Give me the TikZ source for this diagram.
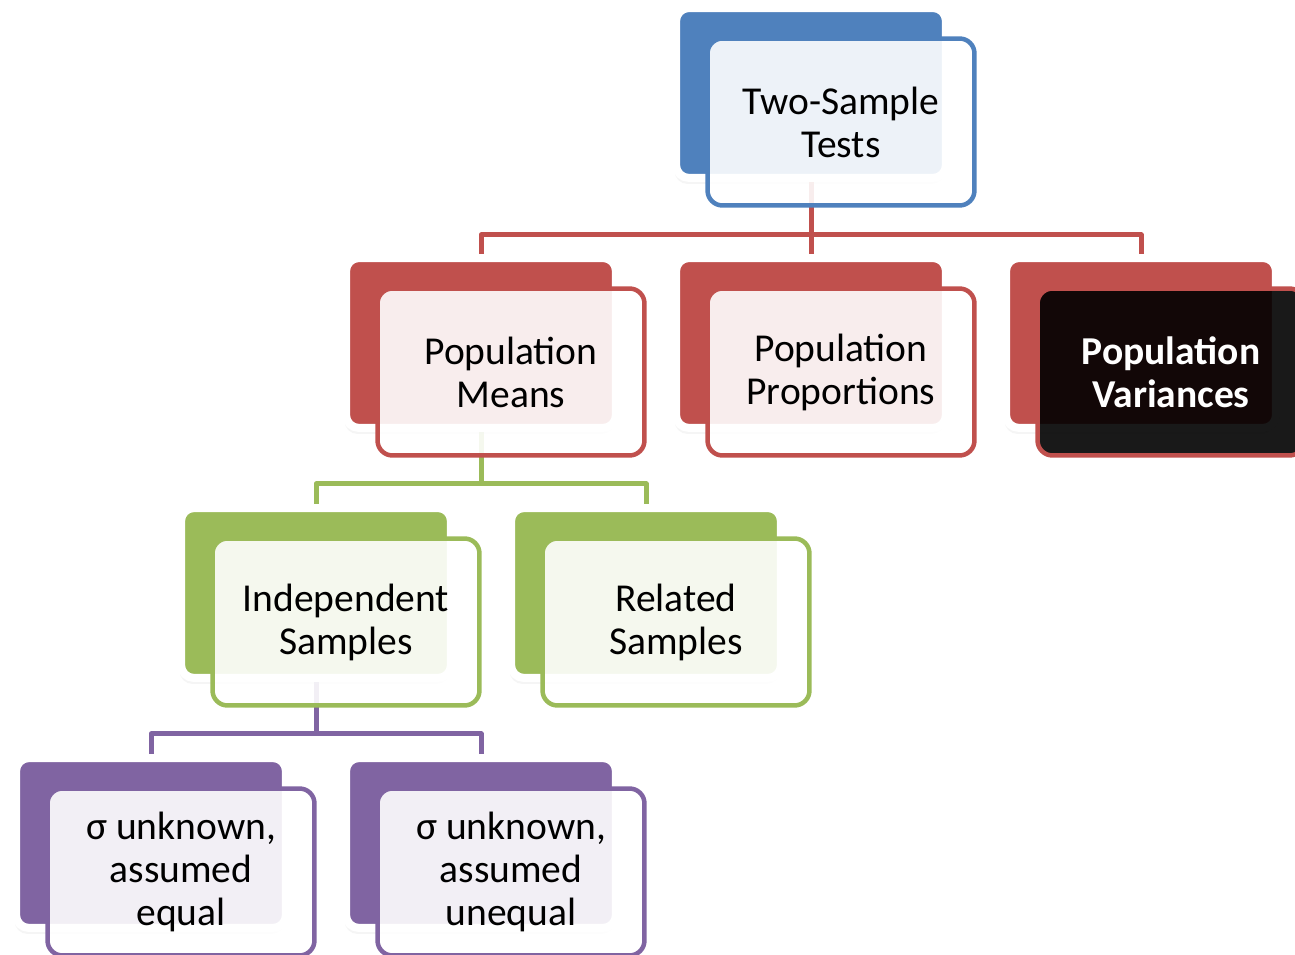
\documentclass[tikz,border=0pt]{standalone}
\usepackage{fontspec}
\setmainfont{Carlito}
\usetikzlibrary{shadows,backgrounds}
\definecolor{hblue}{HTML}{4F81BD}
\definecolor{hred}{HTML}{C0504D}
\definecolor{hgreen}{HTML}{9BBB59}
\definecolor{hpurple}{HTML}{8064A2}
\begin{document}
\begin{tikzpicture}[
    x=0.02cm, y=-0.02cm,
    back/.style={rectangle, rounded corners=0.26cm, inner sep=0pt, minimum width=5.4cm, minimum height=3.4cm, draw=white, line width=0.16cm, drop shadow={shadow xshift=-0.03cm, shadow yshift=-0.12cm, opacity=0.08}},
    front/.style={rectangle, rounded corners=0.3cm, inner sep=0pt, minimum width=5.34cm, minimum height=3.34cm, fill=white, fill opacity=0.9, text opacity=1, line width=0.09cm, align=center, font=\fontsize{22.5}{24.5}\selectfont},
    link/.style={line width=0.1cm, line join=round}
]
\useasboundingbox (0,0) rectangle (1295,955);

% Top level
\node[back, fill=hblue] (topbk) at (811,93) {};
\node[front, draw=hblue] (top) at (841,122) {Two-Sample\\Tests};

% Second level
\node[back, fill=hred] (meansbk) at (481,343) {};
\node[front, draw=hred] (means) at (511,372) {Population\\Means};
\node[back, fill=hred] (propbk) at (811,343) {};
\node[front, draw=hred] (prop) at (841,372) {Population\\Proportions};
\node[back, fill=hred] (varbk) at (1141,343) {};
\node[front, draw=hred, fill=black, text=white, font=\fontsize{22.5}{24.5}\selectfont\bfseries] (var) at (1171,372) {Population\\Variances};

% Third level
\node[back, fill=hgreen] (indepbk) at (316,593) {};
\node[front, draw=hgreen] (indep) at (346,622) {Independent\\Samples};
\node[back, fill=hgreen] (relbk) at (646,593) {};
\node[front, draw=hgreen] (rel) at (676,622) {Related\\Samples};

% Fourth level
\node[back, fill=hpurple] (eqbk) at (151,843) {};
\node[front, draw=hpurple] (eq) at (181,872) {σ unknown,\\assumed\\equal};
\node[back, fill=hpurple] (uneqbk) at (481,843) {};
\node[front, draw=hpurple] (uneq) at (511,872) {σ unknown,\\assumed\\unequal};

% Connectors
\begin{scope}[on background layer]
\coordinate (redbar) at (811,235);
\coordinate (greenbar) at (481,484);
\coordinate (purplebar) at (316,734);
\draw[link, hred] (topbk.south) -- (redbar) -| (meansbk.north);
\draw[link, hred] (redbar) -| (varbk.north);
\draw[link, hred] (redbar) -- (propbk.north);
\draw[link, hgreen] (meansbk.south) -- (greenbar) -| (indepbk.north);
\draw[link, hgreen] (greenbar) -| (relbk.north);
\draw[link, hpurple] (indepbk.south) -- (purplebar) -| (eqbk.north);
\draw[link, hpurple] (purplebar) -| (uneqbk.north);
\end{scope}

\end{tikzpicture}
\end{document}
